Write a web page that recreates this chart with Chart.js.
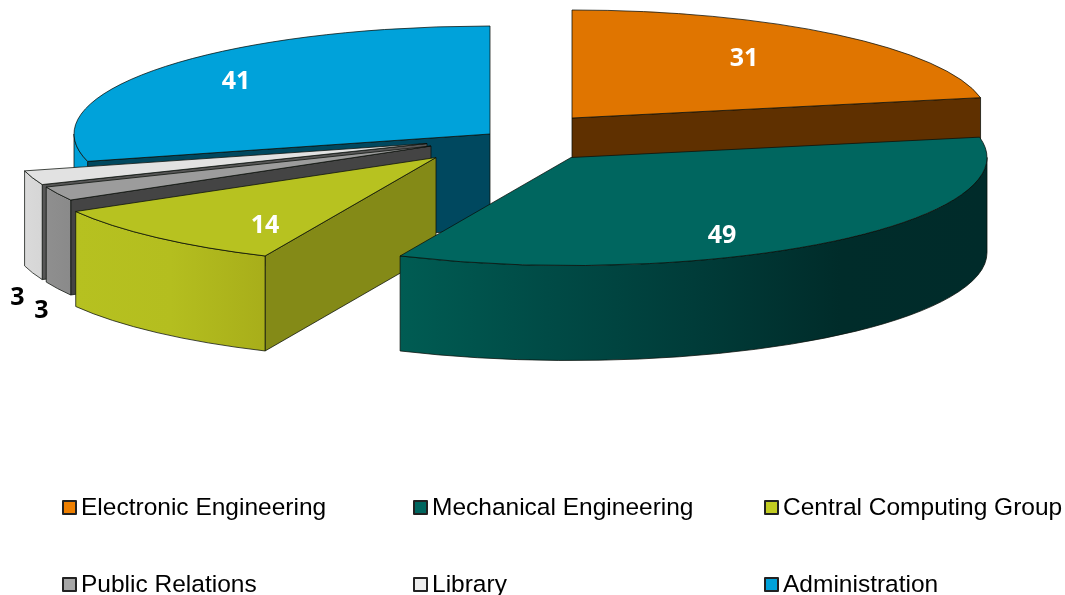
<!DOCTYPE html>
<html><head><meta charset="utf-8">
<style>html,body{margin:0;padding:0;background:#fff}canvas{display:block}</style>
<script src="https://cdn.jsdelivr.net/npm/chart.js@4/dist/chart.umd.min.js"></script>
</head><body>
<canvas id="c" width="1065" height="595"></canvas>
<script>
// ---- data ----
const categories = ['Electronic Engineering','Mechanical Engineering','Central Computing Group','Public Relations','Library','Administration'];
const values = [31,49,14,3,3,41];

// ---- styles ----
const topColors  = ['#E07500','#00665F','#B7C220','#9C9C9C','#E2E2E2','#00A2DA'];
const faceColors = ['#5F3000','#003A38','#848A17','#444444','#565656','#00485F'];
const wallStops  = [
  ['#A05300','#A05300'],
  ['#005C53','#004B46','#003C39','#002C2A','#002B2A'],
  ['#B6C120','#B4BE1F','#A8AE1A'],
  ['#8F8F8F','#8A8A8A'],
  ['#DADADA','#D6D6D6'],
  ['#00A0D8','#00A0D8']
];
const legendSwatch = ['#EE7F00','#00665F','#C2CC22','#A6A6A6','#EEEEEE','#00A2DA'];
const labelColors = ['#fff','#fff','#fff','#000','#000','#fff'];

// ---- layout of the tilted, exploded pie ----
const pieCenter = {x:500, y:150};
const tilt = {rx:416, ry:108, depth:95};
const explodeX = [72,71,-64,-69,-73,-10];
const explodeY = [-32,7.5,7.5,-4,-6.5,-16];
const labelDX = [172,151,-171,-413.5,-385.5,-254];
const labelDY = [-59,78.5,68.5,151.5,167.5,-52];
const drawOrder = [0,5,4,3,2,1];
const legendColX = [62,413,764];
const legendRowY = [500,577];

const pie3d = {
  id:'pie3d',
  beforeDatasetsDraw(chart){
    const ctx = chart.ctx, arcs = chart.getDatasetMeta(0).data;
    const {rx,ry,depth} = tilt;
    drawOrder.forEach(i=>{
      const a = arcs[i], ax = pieCenter.x+explodeX[i], ay = pieCenter.y+explodeY[i];
      const sa = a.startAngle, ea = a.endAngle;
      const rim = t=>[ax+rx*Math.cos(t), ay+ry*Math.sin(t)];
      const outline = ()=>{ctx.lineWidth=1;ctx.strokeStyle='rgba(10,15,10,.75)';ctx.lineJoin='round';ctx.stroke();};
      // flat radial faces
      [[sa,Math.sin(sa+Math.PI/2)<-1e-6],[ea,Math.sin(ea+Math.PI/2)>1e-6]].forEach(([t,vis])=>{
        if(!vis) return;
        const [px,py]=rim(t);
        ctx.beginPath();ctx.moveTo(ax,ay);ctx.lineTo(px,py);ctx.lineTo(px,py+depth);ctx.lineTo(ax,ay+depth);ctx.closePath();
        ctx.fillStyle=faceColors[i];ctx.fill();outline();
      });
      // curved outer wall (front half only)
      const w0=Math.max(sa,0), w1=Math.min(ea,Math.PI);
      if(w1>w0){
        const xs=[rim(w0)[0],rim(w1)[0]];
        if(w0<=0) xs[0]=ax+rx;
        const g=ctx.createLinearGradient(Math.max(xs[0],xs[1]),0,Math.min(xs[0],xs[1]),0);
        const st=wallStops[i].slice().reverse();
        st.forEach((c,k)=>g.addColorStop(k/(st.length-1),c));
        ctx.beginPath();
        ctx.ellipse(ax,ay,rx,ry,0,w0,w1,false);
        ctx.ellipse(ax,ay+depth,rx,ry,0,w1,w0,true);
        ctx.closePath();
        ctx.fillStyle=g;ctx.fill();outline();
      }
      // top surface: the library's own arc element under a tilt transform
      ctx.save();
      ctx.translate(ax,ay);
      ctx.scale(rx/a.outerRadius,ry/a.outerRadius);
      ctx.translate(-a.x,-a.y);
      a.draw(ctx);
      ctx.restore();
      ctx.beginPath();ctx.moveTo(ax,ay);ctx.ellipse(ax,ay,rx,ry,0,sa,ea,false);ctx.closePath();outline();
    });
    // value labels
    ctx.font='700 25px "Open Sans"';ctx.textAlign='center';ctx.textBaseline='middle';
    values.forEach((v,i)=>{
      ctx.fillStyle=labelColors[i];
      ctx.fillText(String(v),pieCenter.x+explodeX[i]+labelDX[i],pieCenter.y+explodeY[i]+labelDY[i]);
    });
    // three-column legend
    ctx.font='24.5px "Liberation Sans"';ctx.textAlign='left';ctx.textBaseline='alphabetic';
    categories.forEach((name,i)=>{
      const x=legendColX[i%3], y=legendRowY[i<3?0:1];
      ctx.fillStyle=legendSwatch[i];ctx.fillRect(x+1,y+1,13,13);
      ctx.strokeStyle='#222';ctx.lineWidth=2;ctx.strokeRect(x+1,y+1,13,13);
      ctx.fillStyle='#000';ctx.fillText(name,x+19,y+14.5);
    });
    return false;
  }
};

new Chart(document.getElementById('c'),{
  type:'pie',
  data:{labels:categories,datasets:[{data:values,backgroundColor:topColors,borderWidth:0}]},
  options:{
    responsive:false,animation:false,events:[],
    plugins:{legend:{display:false},tooltip:{enabled:false}}
  },
  plugins:[pie3d]
});
</script>
</body></html>
